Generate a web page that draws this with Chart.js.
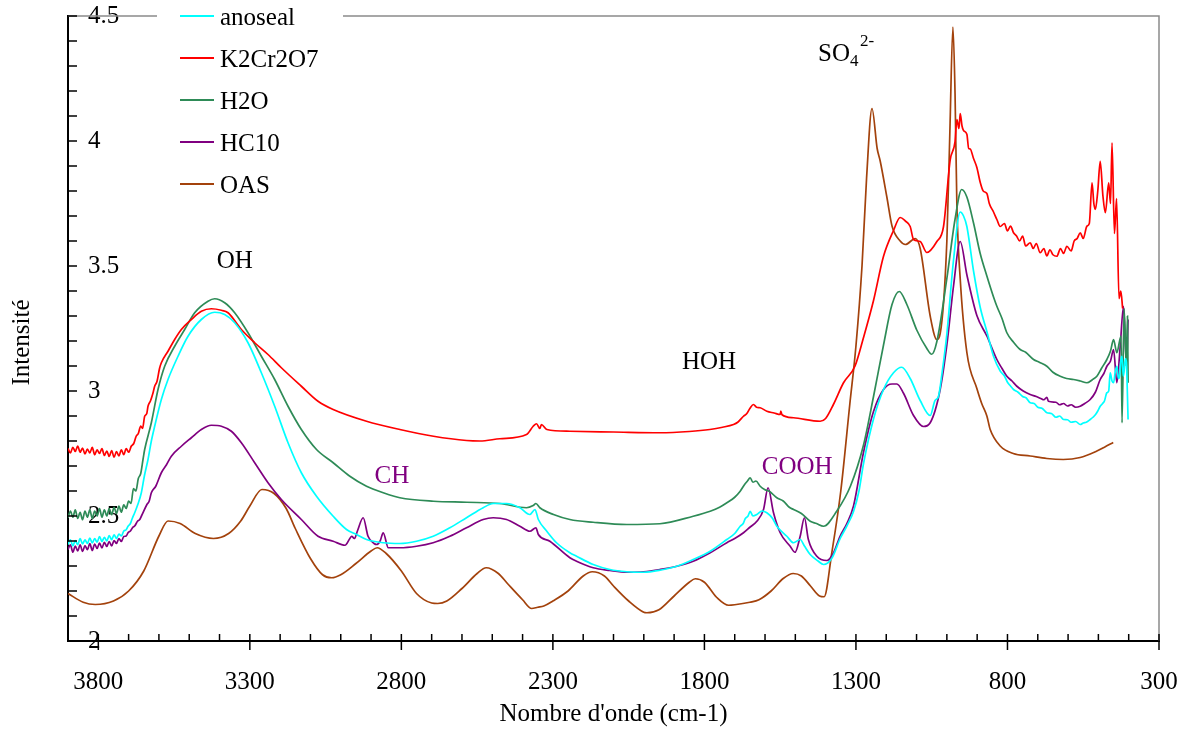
<!DOCTYPE html>
<html>
<head>
<meta charset="utf-8">
<script src="https://cdn.jsdelivr.net/npm/chart.js@4.4.0/dist/chart.umd.min.js"></script>
<style>
  html, body { margin: 0; padding: 0; background: #fff; }
</style>
</head>
<body>
<canvas id="spectre" width="1189" height="729"></canvas>
<script>
const serif = "'Liberation Serif', 'Times New Roman', serif"

// wave numbers shown on the x axis (cm-1), intensity ticks on the y axis
const xTicks = [3800, 3300, 2800, 2300, 1800, 1300, 800, 300]
const yTicks = [2, 2.5, 3, 3.5, 4, 4.5]

const names = ['anoseal', 'K2Cr2O7', 'H2O', 'HC10', 'OAS']
const colors = ['#00ffff', '#ff0000', '#2e8b57', '#800080', '#a3420c']

// [nombre d'onde, intensité]
const anoseal = [
  [3900, 2.386], [3892, 2.405], [3884, 2.38], [3876, 2.402], [3868, 2.385], [3860, 2.41],
  [3852, 2.388], [3844, 2.405], [3836, 2.39], [3828, 2.412], [3820, 2.392], [3812, 2.41],
  [3804, 2.395], [3796, 2.418], [3788, 2.398], [3780, 2.415], [3772, 2.4], [3764, 2.422],
  [3756, 2.405], [3748, 2.425], [3740, 2.41], [3732, 2.428], [3724, 2.42], [3716, 2.44],
  [3708, 2.445], [3702, 2.459], [3694, 2.47], [3688, 2.49], [3680, 2.513], [3670, 2.545],
  [3658, 2.593], [3648, 2.66], [3636, 2.726], [3625, 2.8], [3614, 2.859], [3592, 2.966],
  [3570, 3.046], [3537, 3.139], [3504, 3.219], [3460, 3.286], [3416, 3.315], [3383, 3.306],
  [3350, 3.273], [3306, 3.193], [3262, 3.073], [3218, 2.939], [3174, 2.793], [3130, 2.673],
  [3080, 2.579], [3025, 2.499], [2981, 2.446], [2948, 2.426], [2915, 2.406], [2860, 2.393],
  [2805, 2.39], [2750, 2.399], [2695, 2.419], [2640, 2.453], [2585, 2.493], [2530, 2.533],
  [2497, 2.55], [2453, 2.55], [2409, 2.533], [2376, 2.506], [2359, 2.526], [2348, 2.486],
  [2320, 2.439], [2288, 2.393], [2244, 2.353], [2222, 2.339], [2167, 2.306], [2112, 2.286],
  [2056, 2.277], [2001, 2.275], [1947, 2.283], [1891, 2.299], [1837, 2.326], [1781, 2.359],
  [1726, 2.406], [1700, 2.43], [1682, 2.459], [1672, 2.47], [1665, 2.49], [1656, 2.5],
  [1649, 2.519], [1640, 2.5], [1627, 2.506], [1610, 2.52], [1594, 2.513], [1575, 2.49],
  [1561, 2.459], [1528, 2.419], [1506, 2.393], [1484, 2.406], [1470, 2.38], [1451, 2.346],
  [1425, 2.32], [1407, 2.306], [1380, 2.33], [1352, 2.41], [1330, 2.46], [1308, 2.518],
  [1290, 2.6], [1275, 2.71], [1242, 2.888], [1209, 3.006], [1176, 3.073], [1149, 3.095],
  [1121, 3.05], [1088, 2.962], [1055, 2.902], [1039, 2.962], [1028, 2.977], [1015, 3.08],
  [1000, 3.228], [978, 3.524], [956, 3.716], [945, 3.7], [934, 3.658], [912, 3.48],
  [890, 3.335], [868, 3.238], [846, 3.139], [824, 3.08], [810, 3.06], [800, 3.035],
  [790, 3.02], [780, 3.006], [765, 2.995], [750, 2.978], [738, 2.972], [725, 2.953],
  [712, 2.95], [700, 2.935], [685, 2.93], [670, 2.913], [655, 2.91], [640, 2.895],
  [628, 2.9], [615, 2.886], [602, 2.885], [590, 2.875], [575, 2.878], [560, 2.866],
  [550, 2.872], [540, 2.875], [527, 2.886], [518, 2.895], [510, 2.905], [502, 2.92],
  [494, 2.939], [486, 2.95], [480, 2.96], [472, 2.993], [466, 3.0], [461, 3.073],
  [455, 3.04], [450, 3.033], [444, 3.08], [439, 3.099], [434, 3.05], [430, 3.06],
  [426, 3.12], [422, 3.139], [418, 3.06], [415, 3.08], [411, 3.13], [408, 3.12],
  [402, 2.886]
]

const k2cr2o7 = [
  [3900, 2.77], [3892, 2.752], [3884, 2.775], [3876, 2.758], [3868, 2.78], [3860, 2.755],
  [3852, 2.772], [3844, 2.748], [3836, 2.768], [3828, 2.752], [3820, 2.775], [3812, 2.745],
  [3804, 2.765], [3796, 2.75], [3788, 2.77], [3780, 2.742], [3772, 2.76], [3764, 2.738],
  [3756, 2.762], [3748, 2.735], [3740, 2.758], [3732, 2.74], [3724, 2.765], [3716, 2.745],
  [3708, 2.77], [3700, 2.755], [3691, 2.78], [3683, 2.79], [3675, 2.819], [3668, 2.83],
  [3660, 2.86], [3654, 2.85], [3647, 2.899], [3640, 2.91], [3636, 2.939], [3628, 2.96],
  [3620, 2.99], [3614, 3.019], [3606, 3.04], [3598, 3.09], [3592, 3.113], [3570, 3.159],
  [3548, 3.206], [3526, 3.246], [3493, 3.286], [3460, 3.319], [3427, 3.329], [3394, 3.323],
  [3372, 3.313], [3328, 3.246], [3284, 3.193], [3240, 3.146], [3196, 3.093], [3130, 3.019],
  [3075, 2.959], [3025, 2.926], [2915, 2.879], [2805, 2.846], [2694, 2.819], [2585, 2.802],
  [2541, 2.8], [2475, 2.809], [2387, 2.826], [2365, 2.859], [2354, 2.869], [2343, 2.85],
  [2338, 2.866], [2320, 2.846], [2244, 2.839], [2100, 2.836], [1947, 2.833], [1850, 2.838],
  [1782, 2.846], [1740, 2.855], [1704, 2.866], [1690, 2.875], [1671, 2.899], [1660, 2.91],
  [1650, 2.93], [1638, 2.946], [1628, 2.935], [1616, 2.933], [1594, 2.919], [1570, 2.912],
  [1550, 2.906], [1548, 2.92], [1544, 2.905], [1506, 2.893], [1418, 2.879], [1400, 2.89],
  [1374, 2.947], [1341, 3.033], [1303, 3.10], [1275, 3.214], [1242, 3.362], [1209, 3.539],
  [1176, 3.642], [1154, 3.694], [1137, 3.68], [1121, 3.658], [1110, 3.606], [1088, 3.598],
  [1066, 3.554], [1033, 3.598], [1011, 3.658], [989, 3.924], [973, 3.998], [967, 4.086],
  [960, 4.05], [956, 4.11], [950, 4.06], [945, 4.042], [934, 4.027], [928, 3.97],
  [923, 3.968], [912, 3.93], [901, 3.894], [890, 3.835], [880, 3.80], [868, 3.79],
  [860, 3.75], [846, 3.716], [835, 3.686], [824, 3.658], [810, 3.67], [800, 3.64],
  [790, 3.66], [780, 3.633], [770, 3.62], [760, 3.6], [750, 3.62], [740, 3.58],
  [725, 3.593], [715, 3.57], [705, 3.59], [692, 3.553], [680, 3.57], [670, 3.54],
  [660, 3.565], [650, 3.545], [637, 3.539], [625, 3.57], [615, 3.55], [604, 3.579],
  [590, 3.56], [580, 3.6], [570, 3.61], [560, 3.633], [550, 3.61], [538, 3.659],
  [530, 3.67], [521, 3.833], [515, 3.75], [510, 3.726], [502, 3.8], [494, 3.919],
  [485, 3.78], [477, 3.713], [466, 3.833], [460, 3.75], [455, 3.993], [447, 3.63],
  [440, 3.77], [432, 3.37], [426, 3.40], [420, 3.33]
]

const h2o = [
  [3900, 2.493], [3892, 2.52], [3884, 2.495], [3876, 2.525], [3868, 2.49], [3860, 2.515],
  [3852, 2.485], [3844, 2.52], [3836, 2.495], [3828, 2.525], [3820, 2.49], [3812, 2.52],
  [3804, 2.5], [3796, 2.53], [3788, 2.495], [3780, 2.525], [3772, 2.5], [3764, 2.53],
  [3756, 2.505], [3748, 2.535], [3740, 2.51], [3732, 2.54], [3724, 2.515], [3716, 2.545],
  [3708, 2.53], [3700, 2.56], [3692, 2.55], [3684, 2.61], [3676, 2.6], [3668, 2.65],
  [3660, 2.67], [3652, 2.73], [3647, 2.766], [3625, 2.873], [3603, 3.006], [3581, 3.099],
  [3548, 3.179], [3515, 3.246], [3482, 3.313], [3438, 3.359], [3416, 3.369], [3383, 3.353],
  [3350, 3.313], [3306, 3.233], [3262, 3.139], [3218, 3.046], [3174, 2.939], [3130, 2.846],
  [3080, 2.766], [3025, 2.713], [2970, 2.659], [2915, 2.619], [2860, 2.593], [2805, 2.573],
  [2694, 2.559], [2585, 2.555], [2475, 2.55], [2387, 2.533], [2365, 2.542], [2356, 2.55],
  [2343, 2.533], [2298, 2.506], [2244, 2.486], [2167, 2.475], [2056, 2.466], [1947, 2.469],
  [1837, 2.499], [1781, 2.519], [1750, 2.535], [1726, 2.553], [1700, 2.575], [1682, 2.599],
  [1668, 2.625], [1658, 2.64], [1649, 2.653], [1640, 2.635], [1630, 2.64], [1616, 2.619],
  [1600, 2.605], [1585, 2.598], [1561, 2.573], [1540, 2.56], [1520, 2.535], [1506, 2.526],
  [1480, 2.51], [1451, 2.479], [1430, 2.47], [1407, 2.459], [1363, 2.52], [1318, 2.62],
  [1275, 2.784], [1242, 2.978], [1209, 3.184], [1181, 3.346], [1157, 3.398], [1132, 3.346],
  [1099, 3.243], [1066, 3.17], [1050, 3.147], [1033, 3.198], [1000, 3.45], [973, 3.687],
  [951, 3.806], [934, 3.776], [912, 3.672], [890, 3.55], [868, 3.46], [846, 3.376],
  [835, 3.339], [818, 3.29], [802, 3.233], [780, 3.195], [758, 3.166], [740, 3.155],
  [714, 3.126], [695, 3.115], [670, 3.099], [650, 3.075], [626, 3.059], [605, 3.05],
  [582, 3.046], [560, 3.04], [538, 3.033], [520, 3.045], [505, 3.059], [490, 3.09],
  [472, 3.126], [460, 3.16], [450, 3.206], [439, 3.153], [430, 3.2], [425, 3.22],
  [422, 2.873], [415, 3.33], [408, 3.1], [404, 3.3], [402, 3.033]
]

const hc10 = [
  [3900, 2.366], [3892, 2.385], [3884, 2.355], [3876, 2.38], [3868, 2.36], [3860, 2.385],
  [3852, 2.358], [3844, 2.382], [3836, 2.365], [3828, 2.39], [3820, 2.362], [3812, 2.388],
  [3804, 2.37], [3796, 2.392], [3788, 2.372], [3780, 2.395], [3772, 2.378], [3764, 2.398],
  [3756, 2.38], [3748, 2.402], [3740, 2.39], [3732, 2.41], [3724, 2.398], [3716, 2.418],
  [3708, 2.42], [3702, 2.433], [3694, 2.44], [3686, 2.455], [3680, 2.46], [3670, 2.48],
  [3664, 2.485], [3658, 2.499], [3640, 2.545], [3632, 2.56], [3625, 2.593], [3610, 2.62],
  [3592, 2.673], [3575, 2.705], [3559, 2.739], [3526, 2.779], [3493, 2.813], [3460, 2.846],
  [3427, 2.863], [3394, 2.859], [3361, 2.839], [3328, 2.793], [3284, 2.713], [3240, 2.633],
  [3196, 2.566], [3130, 2.486], [3075, 2.419], [3025, 2.399], [2986, 2.383], [2970, 2.41],
  [2964, 2.419], [2955, 2.41], [2945, 2.44], [2926, 2.493], [2910, 2.419], [2890, 2.39],
  [2882, 2.386], [2870, 2.40], [2860, 2.433], [2843, 2.373], [2805, 2.373], [2750, 2.379],
  [2695, 2.393], [2640, 2.419], [2585, 2.453], [2530, 2.486], [2497, 2.493], [2453, 2.486],
  [2409, 2.459], [2376, 2.439], [2356, 2.453], [2348, 2.426], [2310, 2.399], [2244, 2.333],
  [2222, 2.319], [2167, 2.293], [2112, 2.282], [2056, 2.275], [2001, 2.277], [1947, 2.286],
  [1891, 2.299], [1837, 2.319], [1781, 2.353], [1726, 2.393], [1700, 2.41], [1671, 2.433],
  [1650, 2.455], [1627, 2.479], [1605, 2.526], [1590, 2.613], [1572, 2.513], [1550, 2.433],
  [1517, 2.379], [1501, 2.355], [1484, 2.419], [1470, 2.493], [1457, 2.406], [1429, 2.339],
  [1396, 2.322], [1375, 2.35], [1352, 2.42], [1330, 2.47], [1308, 2.54], [1275, 2.755],
  [1242, 2.918], [1209, 3.006], [1181, 3.028], [1165, 3.028], [1143, 2.991], [1110, 2.902],
  [1077, 2.858], [1055, 2.873], [1022, 3.006], [1000, 3.184], [978, 3.42], [956, 3.598],
  [934, 3.465], [901, 3.302], [868, 3.22], [835, 3.126], [818, 3.09], [802, 3.059],
  [785, 3.04], [769, 3.019], [748, 3.0], [725, 2.986], [705, 2.978], [690, 2.97],
  [680, 2.965], [670, 2.975], [665, 2.959], [640, 2.955], [628, 2.945], [615, 2.95],
  [602, 2.94], [590, 2.945], [575, 2.935], [560, 2.939], [545, 2.95], [527, 2.966],
  [510, 2.995], [494, 3.046], [482, 3.07], [472, 3.099], [460, 3.12], [450, 3.166],
  [439, 3.033], [428, 3.179], [417, 3.339], [407, 3.099], [402, 3.286]
]

const oas = [
  [3900, 2.19], [3850, 2.155], [3810, 2.146], [3750, 2.16], [3700, 2.2], [3650, 2.28],
  [3600, 2.42], [3570, 2.48], [3530, 2.47], [3480, 2.43], [3420, 2.41], [3370, 2.43],
  [3330, 2.48], [3300, 2.54], [3260, 2.606], [3220, 2.59], [3180, 2.53], [3150, 2.45],
  [3100, 2.33], [3060, 2.265], [3030, 2.253], [3000, 2.265], [2950, 2.31], [2900, 2.36],
  [2880, 2.373], [2850, 2.35], [2800, 2.28], [2750, 2.19], [2700, 2.152], [2680, 2.15],
  [2650, 2.16], [2600, 2.21], [2550, 2.27], [2520, 2.293], [2480, 2.27], [2450, 2.23],
  [2400, 2.165], [2370, 2.13], [2350, 2.135], [2330, 2.14], [2300, 2.16], [2250, 2.2],
  [2200, 2.26], [2170, 2.277], [2130, 2.26], [2100, 2.22], [2050, 2.16], [2000, 2.115],
  [1990, 2.113], [1950, 2.125], [1900, 2.18], [1850, 2.235], [1830, 2.249], [1800, 2.235],
  [1760, 2.175], [1720, 2.143], [1700, 2.145], [1650, 2.155], [1620, 2.165], [1580, 2.2],
  [1540, 2.25], [1507, 2.27], [1480, 2.26], [1450, 2.22], [1420, 2.18], [1405, 2.177],
  [1380, 2.35], [1350, 2.6], [1320, 2.95], [1300, 3.18], [1280, 3.5], [1265, 3.85],
  [1247, 4.13], [1230, 3.97], [1220, 3.92], [1198, 3.776], [1181, 3.66], [1154, 3.6],
  [1137, 3.586], [1104, 3.61], [1088, 3.57], [1055, 3.3], [1033, 3.206], [1022, 3.23],
  [1000, 3.6], [990, 4.04], [980, 4.456], [973, 4.19], [967, 3.746], [956, 3.45],
  [934, 3.154], [901, 3.01], [885, 2.95], [868, 2.9], [857, 2.846], [824, 2.78],
  [781, 2.75], [725, 2.74], [670, 2.73], [616, 2.726], [560, 2.734], [505, 2.76],
  [480, 2.775], [451, 2.794]
]

// position of the band labels, in data units
const bandes = [
  { text: 'OH', wn: 3350, v: 3.518, color: '#000000' },
  { text: 'CH', wn: 2831, v: 2.658, color: '#800080' },
  { text: 'HOH', wn: 1785, v: 3.114, color: '#000000' },
  { text: 'COOH', wn: 1494, v: 2.694, color: '#800080' }
]

const series = [anoseal, k2cr2o7, h2o, hc10, oas]

const cadre = {
  id: 'cadre',
  afterDraw(chart) {
    const { ctx, chartArea: a, scales: { x, y } } = chart
    ctx.save()

    // top and right frame
    ctx.strokeStyle = '#8a8a8a'
    ctx.lineWidth = 1.5
    ctx.beginPath()
    ctx.moveTo(a.left, a.top)
    ctx.lineTo(a.right, a.top)
    ctx.lineTo(a.right, a.bottom)
    ctx.stroke()

    // tick marks: minor every 100 cm-1 / 0.1, major on the labels
    ctx.strokeStyle = '#000'
    ctx.lineWidth = 1.5
    for (let w = 300; w <= 3900; w += 100) {
      const px = x.getPixelForValue(w)
      const major = xTicks.includes(w)
      ctx.beginPath()
      ctx.moveTo(px, a.bottom - 7)
      ctx.lineTo(px, a.bottom + (major ? 9 : 0))
      ctx.stroke()
    }
    for (let i = 0; i <= 25; i++) {
      const py = y.getPixelForValue(2 + i / 10)
      ctx.beginPath()
      ctx.moveTo(a.left, py)
      ctx.lineTo(a.left + 9, py)
      ctx.stroke()
    }

    // y axis title
    ctx.save()
    ctx.translate(22, (a.top + a.bottom) / 2 + 14)
    ctx.rotate(-Math.PI / 2)
    ctx.font = '25px ' + serif
    ctx.fillStyle = '#000'
    ctx.textAlign = 'center'
    ctx.textBaseline = 'middle'
    ctx.fillText('Intensité', 0, 0)
    ctx.restore()

    // band labels
    ctx.font = '25px ' + serif
    ctx.textAlign = 'center'
    ctx.textBaseline = 'middle'
    bandes.forEach(b => {
      ctx.fillStyle = b.color
      ctx.fillText(b.text, x.getPixelForValue(b.wn), y.getPixelForValue(b.v))
    })
    // SO4 2-
    const sx = x.getPixelForValue(1425)
    const sy = y.getPixelForValue(4.32)
    ctx.fillStyle = '#000'
    ctx.textAlign = 'left'
    ctx.textBaseline = 'alphabetic'
    ctx.fillText('SO', sx, sy)
    const w = ctx.measureText('SO').width
    ctx.font = '17px ' + serif
    ctx.fillText('4', sx + w, sy + 5)
    ctx.fillText('2-', sx + w + 10, sy - 15)

    // legend
    ctx.fillStyle = '#fff'
    ctx.fillRect(a.left + 89, 0, 186, 200)
    ctx.font = '25px ' + serif
    ctx.textBaseline = 'middle'
    chart.data.datasets.forEach((ds, i) => {
      const ly = a.top + i * 42
      ctx.strokeStyle = ds.borderColor
      ctx.lineWidth = 2
      ctx.beginPath()
      ctx.moveTo(a.left + 112, ly)
      ctx.lineTo(a.left + 146, ly)
      ctx.stroke()
      ctx.fillStyle = '#000'
      ctx.fillText(ds.label, a.left + 152, ly + 2)
    })
    ctx.restore()
  }
}

new Chart(document.getElementById('spectre'), {
  type: 'line',
  data: {
    datasets: series.map((s, i) => ({
      label: names[i],
      data: s.map(([wn, v]) => ({ x: wn, y: v })),
      borderColor: colors[i],
      borderWidth: 1.7,
      pointRadius: 0,
      cubicInterpolationMode: 'monotone',
      fill: false
    }))
  },
  options: {
    responsive: false,
    animation: false,
    layout: { padding: { top: 16, right: 30, left: 0, bottom: 0 } },
    plugins: {
      legend: { display: false },
      tooltip: { enabled: false }
    },
    scales: {
      x: {
        type: 'linear',
        reverse: true,
        min: 300,
        max: 3900,
        afterBuildTicks: scale => { scale.ticks = xTicks.map(v => ({ value: v })) },
        afterFit: scale => {
          scale.height = 88
          scale.paddingLeft = 0
          scale.paddingRight = 0
        },
        grid: { display: false, drawTicks: false },
        border: { display: true, color: '#000', width: 2 },
        ticks: { color: '#000', font: { family: serif, size: 25 }, padding: 26, maxRotation: 0, callback: v => String(v) },
        title: { display: true, text: "Nombre d'onde (cm-1)", color: '#000', font: { family: serif, size: 25 }, padding: { top: 0, bottom: 0 } }
      },
      y: {
        min: 2,
        max: 4.5,
        afterBuildTicks: scale => { scale.ticks = yTicks.map(v => ({ value: v })) },
        afterFit: scale => {
          scale.width = 68
          scale.paddingTop = 0
          scale.paddingBottom = 0
        },
        grid: { display: false, drawTicks: false },
        border: { display: true, color: '#000', width: 2 },
        ticks: { mirror: true, padding: 20, color: '#000', font: { family: serif, size: 25 }, callback: v => String(v) }
      }
    }
  },
  plugins: [cadre]
})
</script>
</body>
</html>
